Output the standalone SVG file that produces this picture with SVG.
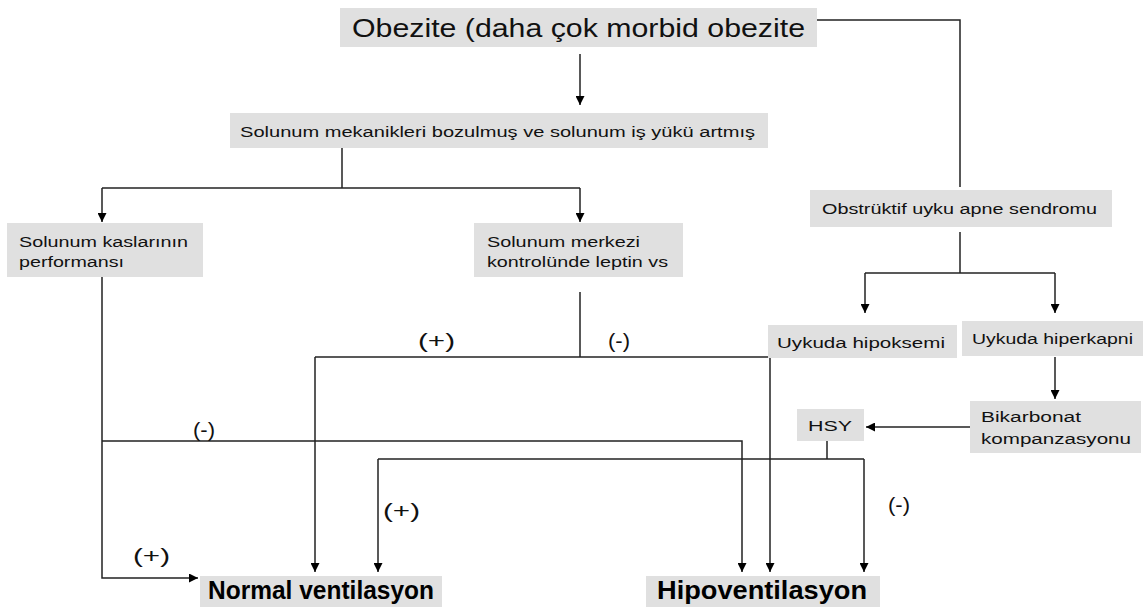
<svg xmlns="http://www.w3.org/2000/svg" width="1147" height="607" viewBox="0 0 1147 607">
<defs>
<marker id="ah" viewBox="0 0 10 10" refX="10" refY="5" markerWidth="9" markerHeight="9" markerUnits="userSpaceOnUse" orient="auto">
<path d="M0,0 L10,5 L0,10 z" fill="#000"/>
</marker>
<style>
.box{fill:#e0e0e0;}
.t{font-family:"Liberation Sans",Arial,sans-serif;fill:#111;}
.s{font-size:15.5px;}
.lbl{font-family:"Liberation Sans",Arial,sans-serif;font-size:21px;fill:#111;}
.b{font-family:"Liberation Sans",Arial,sans-serif;font-size:25px;font-weight:bold;fill:#000;}
.c{fill:none;stroke:#222;stroke-width:1.5;}
.a{marker-end:url(#ah);}
</style>
</defs>
<rect width="1147" height="607" fill="#fff"/>
<g id="connectors">
<path class="c" d="M817,20 H960 V187"/>
<path class="c a" d="M580,54 V105"/>
<path class="c" d="M342,148 V188"/>
<path class="c" d="M102,188 H580"/>
<path class="c a" d="M102,188 V222"/>
<path class="c a" d="M580,188 V222"/>
<path class="c a" d="M102,277 V578 H198"/>
<path class="c" d="M580,292 V357"/>
<path class="c" d="M315,357 H770"/>
<path class="c a" d="M315,357 V572"/>
<path class="c a" d="M770,357 V572"/>
<path class="c a" d="M102,441 H742 V572"/>
<path class="c" d="M827,441 V459"/>
<path class="c" d="M378,459 H864"/>
<path class="c a" d="M378,459 V572"/>
<path class="c a" d="M864,459 V572"/>
<path class="c" d="M960,232 V273"/>
<path class="c" d="M865,273 H1055"/>
<path class="c a" d="M865,273 V313"/>
<path class="c a" d="M1055,273 V313"/>
<path class="c a" d="M1055,357 V399"/>
<path class="c a" d="M970,427 H866"/>
</g>
<g id="n-obezite">
<rect class="box" x="340" y="8" width="477" height="39"/>
<text class="t" x="352" y="37" font-size="26" textLength="453" lengthAdjust="spacingAndGlyphs">Obezite (daha çok morbid obezite</text>
</g>
<g id="n-mekanik">
<rect class="box" x="230" y="113" width="538" height="35"/>
<text class="t s" x="240" y="137" textLength="515" lengthAdjust="spacingAndGlyphs">Solunum mekanikleri bozulmuş ve solunum iş yükü artmış</text>
</g>
<g id="n-kaslar">
<rect class="box" x="7" y="223" width="196" height="54"/>
<text class="t s" x="19" y="247" textLength="169" lengthAdjust="spacingAndGlyphs">Solunum kaslarının</text>
<text class="t s" x="19" y="267" textLength="105" lengthAdjust="spacingAndGlyphs">performansı</text>
</g>
<g id="n-merkez">
<rect class="box" x="474" y="223" width="209" height="54"/>
<text class="t s" x="487" y="247" textLength="153" lengthAdjust="spacingAndGlyphs">Solunum merkezi</text>
<text class="t s" x="487" y="267" textLength="181" lengthAdjust="spacingAndGlyphs">kontrolünde leptin vs</text>
</g>
<g id="n-osas">
<rect class="box" x="810" y="190" width="302" height="37"/>
<text class="t s" x="822" y="214" textLength="275" lengthAdjust="spacingAndGlyphs">Obstrüktif uyku apne sendromu</text>
</g>
<g id="n-hipoksemi">
<rect class="box" x="768" y="325" width="189" height="33"/>
<text class="t s" x="777" y="348" textLength="168" lengthAdjust="spacingAndGlyphs">Uykuda hipoksemi</text>
</g>
<g id="n-hiperkapni">
<rect class="box" x="962" y="321" width="181" height="35"/>
<text class="t s" x="972" y="344" textLength="161" lengthAdjust="spacingAndGlyphs">Uykuda hiperkapni</text>
</g>
<g id="n-bikarbonat">
<rect class="box" x="970" y="401" width="171" height="52"/>
<text class="t s" x="981" y="422" textLength="100" lengthAdjust="spacingAndGlyphs">Bikarbonat</text>
<text class="t s" x="981" y="444" textLength="150" lengthAdjust="spacingAndGlyphs">kompanzasyonu</text>
</g>
<g id="n-hsy">
<rect class="box" x="797" y="409" width="67" height="32"/>
<text class="t s" x="808" y="431" textLength="44" lengthAdjust="spacingAndGlyphs">HSY</text>
</g>
<g id="n-normal">
<rect class="box" x="200" y="576" width="242" height="31"/>
<text class="b" x="208" y="599" textLength="226" lengthAdjust="spacingAndGlyphs">Normal ventilasyon</text>
</g>
<g id="n-hipo">
<rect class="box" x="646" y="576" width="234" height="31"/>
<text class="b" x="657" y="599" textLength="210" lengthAdjust="spacingAndGlyphs">Hipoventilasyon</text>
</g>
<g id="labels">
<text class="lbl" x="418" y="348" textLength="37" lengthAdjust="spacingAndGlyphs">(+)</text>
<text class="lbl" x="608" y="348" textLength="22" lengthAdjust="spacingAndGlyphs">(-)</text>
<text class="lbl" x="193" y="437" textLength="22" lengthAdjust="spacingAndGlyphs">(-)</text>
<text class="lbl" x="383" y="518" textLength="37" lengthAdjust="spacingAndGlyphs">(+)</text>
<text class="lbl" x="888" y="512" textLength="22" lengthAdjust="spacingAndGlyphs">(-)</text>
<text class="lbl" x="133" y="563" textLength="37" lengthAdjust="spacingAndGlyphs">(+)</text>
</g>
</svg>
